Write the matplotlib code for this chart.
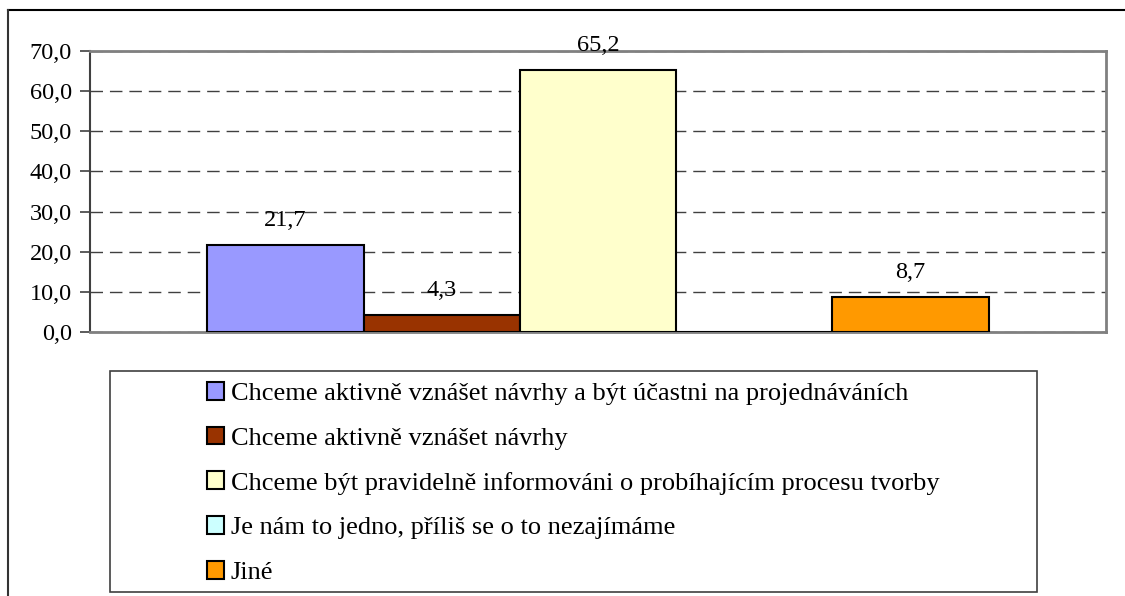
import matplotlib.pyplot as plt
import numpy as np
from matplotlib.patches import Rectangle
from matplotlib.lines import Line2D

# data
series = ['Chceme aktivně vznášet návrhy a být účastni na projednáváních',
          'Chceme aktivně vznášet návrhy',
          'Chceme být pravidelně informováni o probíhajícím procesu tvorby',
          'Je nám to jedno, příliš se o to nezajímáme',
          'Jiné']
values = [21.7, 4.3, 65.2, 0.0, 8.7]
colors = ['#9999FF', '#993300', '#FFFFCC', '#CCFFFF', '#FF9900']
yticks = [0, 10, 20, 30, 40, 50, 60, 70]

plt.rcParams['font.family'] = ['Liberation Serif', 'DejaVu Serif']

W, H = 1125, 596
fig = plt.figure(figsize=(W / 100, H / 100), dpi=100)
ax = fig.add_axes([90 / W, 1 - 332 / H, (1106 - 90) / W, (332 - 51) / H])

# Excel style clustered bars, gap width 150%
n = len(values)
w = 1.0 / (n + 1.5)
handles = []
for i, (v, c) in enumerate(zip(values, colors)):
    x = (i - (n - 1) / 2) * w
    b = ax.bar(x, v, width=w, color=c, edgecolor='black', linewidth=1.5, zorder=3)
    handles.append(b)
    if v > 0:
        ax.text(x, v + 3.5, f'{v:.1f}'.replace('.', ','), ha='center',
                va='bottom', fontsize=17.5, zorder=4)

ax.set_xlim(-0.5, 0.5)
ax.set_ylim(0, 70)
ax.set_yticks(yticks)
ax.set_yticklabels([f'{t:.1f}'.replace('.', ',') for t in yticks], fontsize=17.5)
ax.set_xticks([])
ax.yaxis.grid(True, linestyle=(0, (9, 5)), color='#404040', linewidth=1.0, zorder=0)
ax.tick_params(axis='y', direction='out', length=7, width=1.2, color='#404040', pad=6)
for s in ['top', 'right', 'bottom']:
    ax.spines[s].set_color('#808080')
    ax.spines[s].set_linewidth(2)
ax.spines['left'].set_color('#404040')
ax.spines['left'].set_linewidth(1.5)

# outer chart frame (only top and left visible)
fig.add_artist(Line2D([8 / W, 1], [1 - 10 / H, 1 - 10 / H], color='black', lw=1.5))
fig.add_artist(Line2D([8 / W, 8 / W], [0, 1 - 10 / H], color='#333333', lw=1.5))

# legend frame
fig.add_artist(Rectangle((110 / W, 1 - 592 / H), (1037 - 110) / W, (592 - 371) / H,
                         transform=fig.transFigure, fill=False, edgecolor='#404040', lw=1.2))
leg = fig.legend(handles, series, loc='center',
                 bbox_to_anchor=(573 / W, 1 - 483 / H), frameon=False, fontsize=19,
                 handlelength=0.65, handleheight=0.65, handletextpad=0.25, labelspacing=0.82,
                 borderpad=0)

fig.savefig('out.png', dpi=100)
